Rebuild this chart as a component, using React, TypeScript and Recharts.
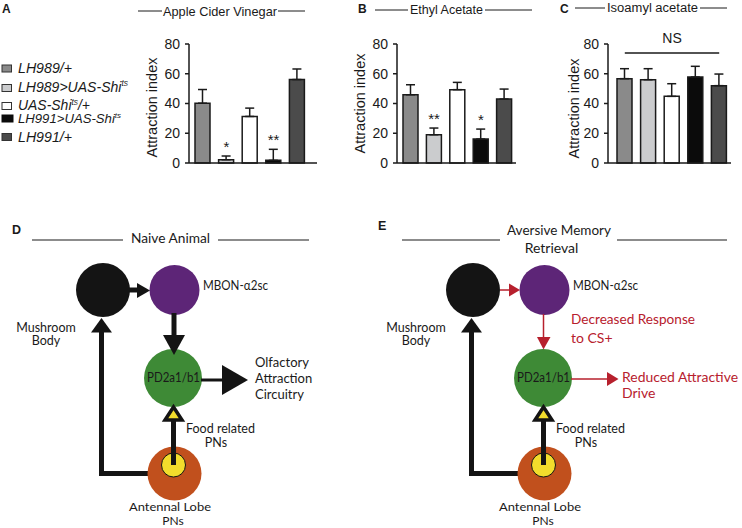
import React from 'react';
import { ComposedChart, Bar, Cell, XAxis, YAxis, ErrorBar, Line, LabelList, ReferenceLine } from 'recharts';

const FONT = "'Liberation Sans', Arial, sans-serif";
const DIA = "Lato, 'Open Sans', sans-serif";
const INK = '#1a1a1a';
const RED = '#b7202d';

const genotypes = ['LH989/+', 'LH989>UAS-Shits', 'UAS-Shits/+', 'LH991>UAS-Shits', 'LH991/+'];
const genotypeColors = ['#8a8a8a', '#cbccce', '#ffffff', '#0b0b0b', '#4b4b4b'];
const yTicks = [0, 20, 40, 60, 80];

const acvMean = [40.2, 2.2, 31.3, 1.8, 56.1];
const acvSem = [9.2, 2.5, 5.6, 7.4, 7.1];
const acvSig = ['', '*', '', '**', ''];

const eaMean = [45.9, 19, 49.3, 16.1, 43];
const eaSem = [6.7, 4.5, 4.9, 6.7, 6.7];
const eaSig = ['', '**', '', '*', ''];

const iaMean = [56.7, 56, 44.8, 57.8, 52];
const iaSem = [6.7, 7.4, 8.5, 7.2, 7.8];
const iaSig = ['', '', '', '', ''];
const iaNsLevel = 74;

const SigLabel = (p: any) =>
  p.value ? (
    <text x={p.x} y={p.y - 4} textAnchor="middle" fontSize={15} fontFamily={FONT} fill={INK}>
      {p.value}
    </text>
  ) : null;

function Panel({ left, width, mean, sem, sig, padL, padR, ns }: any) {
  const rows = genotypes.map((g, i) => ({
    name: g,
    mean: mean[i],
    err: [0, sem[i]],
    top: mean[i] + sem[i],
    sig: sig[i],
  }));
  return (
    <div style={{ position: 'absolute', left, top: 30 }}>
      <ComposedChart width={width} height={145} data={rows} margin={{ top: 14, right: 0, bottom: 10, left: 0 }}>
        <XAxis
          dataKey="name"
          type="category"
          height={2}
          tick={false}
          tickLine={false}
          axisLine={{ stroke: INK, strokeWidth: 1.5 }}
          padding={{ left: padL, right: padR }}
        />
        <YAxis
          width={69}
          domain={[0, 80]}
          ticks={yTicks}
          interval={0}
          tickSize={4}
          tickMargin={5}
          tick={{ fontSize: 14, fill: INK, fontFamily: FONT }}
          axisLine={{ stroke: INK, strokeWidth: 1.5 }}
          tickLine={{ stroke: INK, strokeWidth: 1.5 }}
        />
        <Bar dataKey="mean" barSize={15} stroke={INK} strokeWidth={1.5} isAnimationActive={false}>
          {rows.map((r, i) => (
            <Cell key={i} fill={genotypeColors[i]} />
          ))}
          <ErrorBar dataKey="err" width={4.5} stroke={INK} strokeWidth={1.5} direction="y" />
        </Bar>
        <Line dataKey="top" stroke="none" dot={false} activeDot={false} isAnimationActive={false}>
          <LabelList dataKey="sig" content={SigLabel} />
        </Line>
        {ns !== undefined && (
          <ReferenceLine
            segment={[
              { x: genotypes[0], y: ns },
              { x: genotypes[4], y: ns },
            ]}
            stroke={INK}
            strokeWidth={1.5}
            label={{ value: 'NS', position: 'top', offset: 10, fontSize: 14, fill: INK, fontFamily: FONT }}
          />
        )}
      </ComposedChart>
    </div>
  );
}

const legendRows = [
  { main: 'LH989/+', sup: '', tail: '', y: 73, sq: 65, fs: 14, len: 54 },
  { main: 'LH989>UAS-Shi', sup: 'ts', tail: '', y: 91.5, sq: 84.5, fs: 14, len: 110 },
  { main: 'UAS-Shi', sup: 'ts', tail: '/+', y: 110, sq: 102.5, fs: 14, len: 72 },
  { main: 'LH991>UAS-Shi', sup: 'ts', tail: '', y: 122.7, sq: 115, fs: 12.5, len: 103 },
  { main: 'LH991/+', sup: '', tail: '', y: 141.5, sq: 133.5, fs: 14, len: 54 },
];

function Legend() {
  return (
    <g>
      {legendRows.map((r, i) => (
        <g key={i}>
          <rect
            x={2}
            y={r.sq}
            width={i === 3 ? 11 : 9.5}
            height={7}
            fill={genotypeColors[i]}
            stroke={i === 3 ? '#0b0b0b' : '#333'}
            strokeWidth={1}
          />
          <text
            x={18}
            y={r.y}
            fontSize={r.fs}
            fontStyle="italic"
            fontFamily={FONT}
            fill={INK}
            textLength={r.len}
            lengthAdjust="spacingAndGlyphs"
          >
            {r.main}
            {r.sup && (
              <tspan fontSize={r.fs * 0.6} dy={-r.fs * 0.38}>
                {r.sup}
              </tspan>
            )}
            {r.tail && <tspan dy={r.fs * 0.38}>{r.tail}</tspan>}
          </text>
        </g>
      ))}
    </g>
  );
}

function PanelTitle({ letter, lx, ly, title, tx, ty, tlen, fs, l1, l2, lineY }: any) {
  return (
    <g>
      <text x={lx} y={ly} fontSize={12} fontWeight="bold" fontFamily={FONT} fill={INK}>
        {letter}
      </text>
      <line x1={l1[0]} x2={l1[1]} y1={lineY} y2={lineY} stroke={INK} strokeWidth={1} />
      <line x1={l2[0]} x2={l2[1]} y1={lineY} y2={lineY} stroke={INK} strokeWidth={1} />
      <text x={tx} y={ty} fontSize={fs} fontFamily={FONT} fill={INK} textLength={tlen} lengthAdjust="spacingAndGlyphs">
        {title}
      </text>
    </g>
  );
}

function AxisTitle({ x, y }: any) {
  return (
    <text
      x={x}
      y={y}
      transform={`rotate(-90 ${x} ${y})`}
      textAnchor="middle"
      fontSize={14.5}
      fontFamily={FONT}
      fill={INK}
    >
      Attraction index
    </text>
  );
}

function Circuit({ dx, aversive }: any) {
  const K = '#141414';
  return (
    <g transform={`translate(${dx},0)`}>
      {/* AL -> MB path */}
      <polyline points="160,473.5 101.5,473.5 101.5,330" fill="none" stroke={K} strokeWidth={5} />
      <polygon points="101.5,318 91,332.5 112,332.5" fill={K} />
      {/* circles */}
      <circle cx={103} cy={290} r={27} fill={K} />
      <circle cx={174.5} cy={290} r={25} fill="#5d2577" />
      <circle cx={173} cy={378} r={29} fill="#3e8a36" />
      <circle cx={174.5} cy={473.5} r={27} fill="#c1501d" />
      <circle cx={173.5} cy={465} r={12} fill="#f2dc2c" stroke={K} strokeWidth={1} />
      {/* food related PN arrow */}
      <line x1={173.5} x2={173.5} y1={465} y2={420} stroke={K} strokeWidth={5} />
      <polygon points="165,420 182,420 173.5,407" fill="#f2dc2c" stroke={K} strokeWidth={3.5} strokeLinejoin="miter" />
      {/* MB -> MBON */}
      {aversive ? (
        <g>
          <line x1={130} x2={140} y1={290} y2={290} stroke={RED} strokeWidth={1.5} />
          <polygon points="139,283.5 139,296.5 150,290" fill={RED} />
        </g>
      ) : (
        <g>
          <line x1={128} x2={138} y1={290} y2={290} stroke={K} strokeWidth={5} />
          <polygon points="137,283 137,298 150,290.5" fill={K} />
        </g>
      )}
      {/* MBON -> PD2 */}
      {aversive ? (
        <g>
          <line x1={173.5} x2={173.5} y1={314} y2={338} stroke={RED} strokeWidth={1.5} />
          <polygon points="167,337 180.5,337 173.5,349.5" fill={RED} />
        </g>
      ) : (
        <g>
          <line x1={174} x2={174} y1={313} y2={336} stroke={K} strokeWidth={5} />
          <polygon points="163,335 185,335 174,355" fill={K} />
        </g>
      )}
      {/* PD2 -> output */}
      {aversive ? (
        <g>
          <line x1={201} x2={238} y1={379} y2={379} stroke={RED} strokeWidth={1.5} />
          <polygon points="237,372 237,386 248.5,379" fill={RED} />
        </g>
      ) : (
        <g>
          <line x1={201} x2={224} y1={380} y2={380} stroke={K} strokeWidth={3} />
          <polygon points="222,365 222,395 248,380" fill={K} />
        </g>
      )}
      {/* labels */}
      <text x={173.5} y={381.5} textAnchor="middle" fontSize={12.5} fontFamily={DIA} fill={INK} textLength={53} lengthAdjust="spacingAndGlyphs">
        PD2a1/b1
      </text>
      <text x={203} y={290} fontSize={13} fontFamily={DIA} fill={INK} textLength={65} lengthAdjust="spacingAndGlyphs">
        MBON-α2sc
      </text>
      <text x={46} y={331.5} textAnchor="middle" fontSize={12.5} fontFamily={DIA} fill={INK}>
        Mushroom
      </text>
      <text x={46} y={344.5} textAnchor="middle" fontSize={12.5} fontFamily={DIA} fill={INK}>
        Body
      </text>
      <text x={186} y={432.5} fontSize={12.5} fontFamily={DIA} fill={INK} textLength={69} lengthAdjust="spacingAndGlyphs">
        Food related
      </text>
      <text x={216} y={446.5} textAnchor="middle" fontSize={12.5} fontFamily={DIA} fill={INK}>
        PNs
      </text>
      <text x={170} y={511} textAnchor="middle" fontSize={12} fontFamily={DIA} fill={INK} textLength={82} lengthAdjust="spacingAndGlyphs">
        Antennal Lobe
      </text>
      <text x={173} y={524.5} textAnchor="middle" fontSize={12} fontFamily={DIA} fill={INK}>
        PNs
      </text>
      {aversive ? (
        <g fill={RED} fontFamily={DIA} fontSize={14}>
          <text x={201} y={324} textLength={124} lengthAdjust="spacingAndGlyphs">
            Decreased Response
          </text>
          <text x={201} y={343}>to CS+</text>
          <text x={252} y={381.5} textLength={116} lengthAdjust="spacingAndGlyphs">
            Reduced Attractive
          </text>
          <text x={252} y={398}>Drive</text>
        </g>
      ) : (
        <g fill={INK} fontFamily={DIA} fontSize={13}>
          <text x={255} y={367}>Olfactory</text>
          <text x={255} y={383}>Attraction</text>
          <text x={255} y={399}>Circuitry</text>
        </g>
      )}
    </g>
  );
}

export default function App() {
  return (
    <div style={{ position: 'absolute', left: 0, top: 0, width: 742, height: 528, background: '#fff', overflow: 'hidden' }}>
      <Panel left={120} width={197} mean={acvMean} sem={acvSem} sig={acvSig} padL={2} padR={8} />
      <Panel left={328} width={188} mean={eaMean} sem={eaSem} sig={eaSig} padL={2} padR={0} />
      <Panel left={539} width={192} mean={iaMean} sem={iaSem} sig={iaSig} padL={5} padR={0} ns={iaNsLevel} />
      <svg width={742} height={528} style={{ position: 'absolute', left: 0, top: 0, pointerEvents: 'none' }}>
        <Legend />
        <PanelTitle letter="A" lx={2} ly={13} title="Apple Cider Vinegar" tx={163} ty={15.5} tlen={114} fs={13} l1={[138, 162]} l2={[278, 305]} lineY={11} />
        <PanelTitle letter="B" lx={358} ly={12.5} title="Ethyl Acetate" tx={410} ty={14} tlen={73} fs={12.5} l1={[375, 408]} l2={[485, 532]} lineY={10} />
        <PanelTitle letter="C" lx={560} ly={12.5} title="Isoamyl acetate" tx={607} ty={12.3} tlen={91} fs={12} l1={[575, 605]} l2={[700, 727]} lineY={8} />
        <AxisTitle x={157} y={107.5} />
        <AxisTitle x={365} y={103.5} />
        <AxisTitle x={579} y={108.5} />

        {/* D header */}
        <text x={12} y={234} fontSize={12.5} fontWeight="bold" fontFamily={FONT} fill={INK}>D</text>
        <line x1={32} x2={123} y1={240} y2={240} stroke={INK} strokeWidth={1.2} />
        <line x1={218} x2={309} y1={240} y2={240} stroke={INK} strokeWidth={1.2} />
        <text x={170.5} y={243} textAnchor="middle" fontSize={14} fontFamily={DIA} fill={INK} textLength={79} lengthAdjust="spacingAndGlyphs">
          Naive Animal
        </text>
        <Circuit dx={0} aversive={false} />

        {/* E header */}
        <text x={378} y={230} fontSize={12.5} fontWeight="bold" fontFamily={FONT} fill={INK}>E</text>
        <line x1={402} x2={500} y1={240} y2={240} stroke={INK} strokeWidth={1.2} />
        <line x1={617} x2={727} y1={240} y2={240} stroke={INK} strokeWidth={1.2} />
        <text x={559} y={235} textAnchor="middle" fontSize={14} fontFamily={DIA} fill={INK} textLength={104} lengthAdjust="spacingAndGlyphs">
          Aversive Memory
        </text>
        <text x={551.5} y={252.5} textAnchor="middle" fontSize={14} fontFamily={DIA} fill={INK}>
          Retrieval
        </text>
        <Circuit dx={370} aversive={true} />
      </svg>
    </div>
  );
}
